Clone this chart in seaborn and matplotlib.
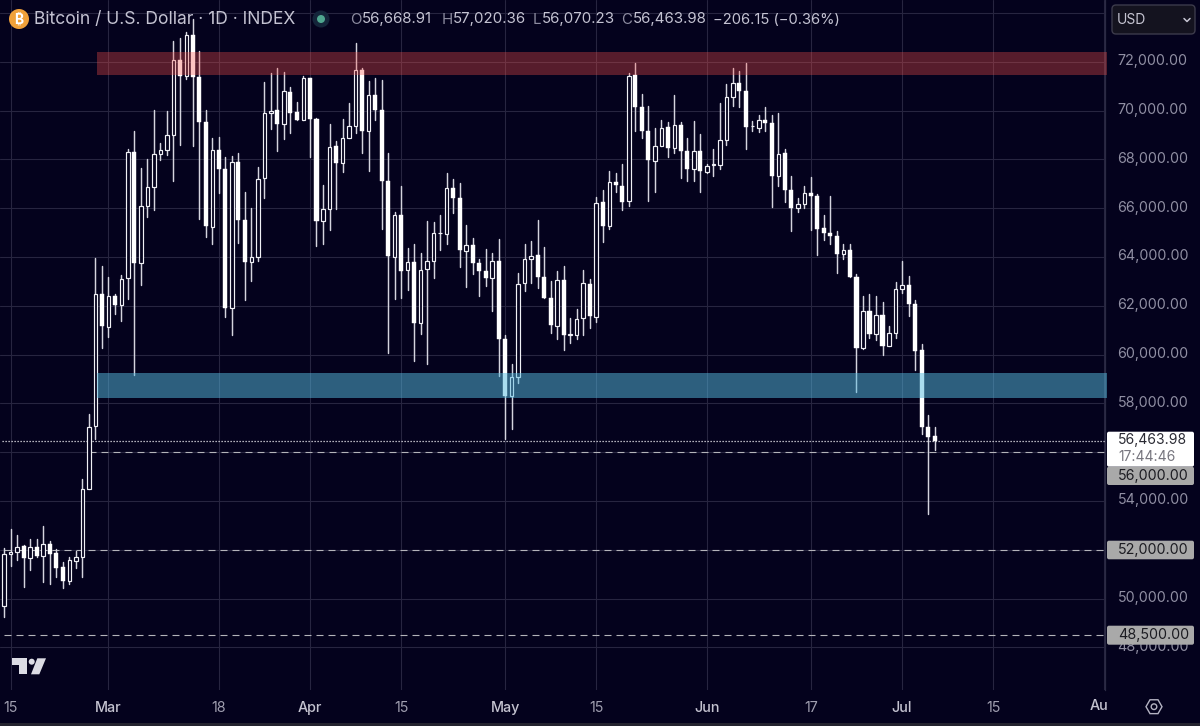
import numpy as np
import pandas as pd
import seaborn as sns
import matplotlib
matplotlib.use("Agg")
import matplotlib.pyplot as plt
from matplotlib.patches import Rectangle, FancyBboxPatch, Circle, Polygon, RegularPolygon
from matplotlib.transforms import Affine2D, ScaledTranslation

start_date = "2024-02-14"
opens = [49.71,51.81,51.92,52.15,51.66,52.12,51.74,52.23,51.85,51.28,50.73,51.55,51.71,54.49,57.07,62.47,61.13,62.39,62.02,63.14,
         68.28,63.76,66.09,66.87,68.21,68.40,69.00,72.07,71.43,73.09,71.38,69.51,65.23,68.40,67.60,61.90,67.87,65.50,63.79,64.00,
         67.24,69.89,70.02,69.44,70.77,69.92,69.63,71.33,69.67,65.46,65.98,68.53,67.86,68.89,69.36,71.64,69.14,70.65,70.04,67.13,
         64.00,65.73,63.45,63.81,61.29,63.49,63.83,64.98,64.93,66.83,66.41,64.25,64.48,63.77,63.43,63.12,63.84,60.64,58.28,59.09,
         62.93,63.90,64.06,63.16,62.33,61.18,63.06,60.82,60.79,61.49,62.90,61.53,66.27,65.26,67.09,66.92,66.28,71.45,70.14,69.14,
         67.94,68.55,69.32,68.48,69.40,68.36,67.60,68.36,67.49,67.75,67.75,68.80,70.56,71.11,70.78,69.35,69.29,69.63,69.50,67.32,
         68.25,66.76,65.99,66.17,66.62,66.51,65.17,64.98,64.87,64.11,64.27,63.18,60.27,61.80,60.83,61.63,60.35,60.90,62.70,62.85,
         62.06,60.17,57.04,56.67]
highs = [52.06,52.83,52.60,52.18,52.42,52.46,52.97,52.35,52.05,51.50,51.69,51.94,54.90,57.58,63.97,63.62,63.18,62.46,63.25,68.44,
         69.15,67.65,68.03,70.04,68.65,69.98,72.85,72.96,73.20,73.75,72.45,70.04,68.88,68.92,68.10,68.14,68.24,66.64,66.00,67.69,
         71.18,71.55,71.73,71.59,70.95,70.36,71.41,71.33,69.70,66.94,69.43,68.74,69.67,70.29,72.75,71.73,71.21,71.32,71.25,68.24,
         65.84,66.90,64.38,64.52,64.16,65.49,65.44,65.73,67.45,67.20,67.04,65.29,64.78,63.91,64.33,64.17,64.72,60.81,59.62,63.34,
         64.54,64.67,65.52,64.40,63.00,63.42,63.61,61.48,61.85,63.45,63.10,66.45,66.76,67.51,67.42,67.79,71.52,71.96,70.67,70.18,
         69.29,69.61,69.52,70.63,69.54,68.88,69.56,69.03,67.80,68.42,70.29,71.08,71.73,71.63,71.96,69.56,69.81,70.15,69.80,69.90,
         68.44,67.32,66.42,66.89,67.28,66.59,65.73,66.50,65.05,64.52,64.52,63.31,62.39,62.49,62.39,62.15,61.16,62.97,63.83,63.23,
         62.22,60.45,57.54,57.02]
lows = [49.26,51.33,51.58,50.48,51.17,51.72,50.69,50.58,50.90,50.42,50.58,51.26,50.90,54.47,56.53,60.25,60.72,61.65,61.38,62.29,
        59.18,62.83,65.64,65.91,67.96,68.17,67.12,68.58,71.28,68.54,65.54,64.82,64.54,66.60,61.53,60.81,64.57,62.25,63.01,63.82,
        66.42,69.25,68.35,68.85,69.06,69.61,69.60,68.10,64.45,64.52,65.09,65.98,67.49,68.88,69.06,68.24,67.53,69.61,65.16,60.06,
        62.29,62.33,62.63,59.74,60.84,59.62,63.13,64.27,64.54,65.81,63.58,62.76,63.31,62.38,62.80,61.78,59.11,56.52,56.96,58.85,
        62.60,62.93,62.73,62.31,60.88,60.64,60.17,60.49,60.62,60.78,61.08,61.33,64.61,65.15,66.64,65.91,66.09,69.17,68.88,66.30,
        66.65,68.55,68.10,68.27,67.25,67.12,67.12,66.64,67.42,67.31,67.59,68.59,70.19,70.13,68.43,69.15,69.13,69.17,66.05,66.91,
        66.25,65.05,65.83,66.02,65.12,64.07,64.68,64.54,63.36,63.93,63.18,58.46,60.24,60.69,60.58,59.97,60.34,60.69,62.52,61.59,
        59.35,56.76,53.45,56.07]
closes = [51.81,51.92,52.12,51.66,52.10,51.74,52.23,51.82,51.24,50.72,51.56,51.71,54.47,57.04,62.46,61.16,62.40,62.02,63.11,68.28,
          63.76,66.09,66.87,68.21,68.40,69.00,72.05,71.43,73.09,71.38,69.51,65.26,68.37,67.60,61.90,67.87,65.50,63.79,64.00,67.20,
          69.88,70.00,69.44,70.78,69.89,69.63,71.32,69.67,65.46,65.97,68.51,67.83,68.89,69.35,71.64,69.14,70.65,70.04,67.13,64.02,
          65.73,63.42,63.81,61.29,63.47,63.83,64.98,65.00,66.83,66.41,64.27,64.48,63.76,63.43,63.12,63.83,60.64,58.28,59.09,62.90,
          63.90,64.05,63.16,62.33,61.19,63.06,60.78,60.85,61.46,62.93,61.57,66.23,65.26,67.08,66.94,66.25,71.43,70.14,69.14,67.96,
          68.55,69.28,68.48,69.39,68.35,67.60,68.36,67.51,67.73,67.79,68.80,70.55,71.11,70.78,69.32,69.37,69.63,69.50,67.32,68.23,
          66.73,65.99,66.17,66.62,66.50,65.14,64.97,64.84,64.11,64.27,63.18,60.27,61.80,60.83,61.63,60.35,60.90,62.70,62.85,62.06,
          60.14,57.03,56.62,56.46]

price_ticks = [48, 50, 52, 54, 56, 58, 60, 62, 64, 66, 68, 70, 72, 74]
time_tick_dates = ["2024-02-15", "2024-03-01", "2024-03-18", "2024-04-01", "2024-04-15", "2024-05-01",
                   "2024-05-15", "2024-06-01", "2024-06-17", "2024-07-01", "2024-07-15", "2024-08-01"]
time_tick_labels = ["15", "Mar", "18", "Apr", "15", "May", "15", "Jun", "17", "Jul", "15", ""]
month_labels = {"Mar", "Apr", "May", "Jun", "Jul"}

resistance_zone = (71.455, 72.385)
support_zone = (58.23, 59.255)
zone_start_date = "2024-02-28 05:00"
level_lines = [(56.0, "2024-02-27"), (52.0, "2024-02-14"), (48.5, "2024-02-14")]
last_price = 56.46398

BG = "#04021d"
GRID = "#272540"
FONT = "Inter"

sns.set_theme(style="dark", rc={"axes.facecolor": BG, "figure.facecolor": BG})
plt.rcParams["font.family"] = [FONT, "DejaVu Sans"]

fig = plt.figure(figsize=(12, 7.26), dpi=100)
W, H = 1200.0, 726.0
ax = fig.add_axes([0, (H - 690) / H, 1105 / W, 690 / H])
px = Affine2D().scale(1, -1).translate(0, H)  # header / tag chrome placed in image pixels

start = pd.Timestamp(start_date)
day_of = lambda d: (pd.Timestamp(d) - start) / pd.Timedelta(days=1)
days = np.arange(len(opens))
o, h, l, c = map(np.array, (opens, highs, lows, closes))

wicks = pd.DataFrame({"day": np.r_[days, days], "price": np.r_[l, h] * 1000})
sns.lineplot(data=wicks, x="day", y="price", units="day", estimator=None, sort=False,
             color="#d4d4de", linewidth=1.05, legend=False, ax=ax, zorder=3)

up = c >= o
ax.bar(days[up], (c - o)[up] * 1000, bottom=o[up] * 1000, width=0.54, facecolor=BG,
       edgecolor="#f0f0f5", linewidth=0.85, zorder=4)
ax.bar(days[~up], (o - c)[~up] * 1000, bottom=c[~up] * 1000, width=0.62, facecolor="white",
       edgecolor="white", linewidth=0.3, zorder=4)

ax.set_xlim((0 - 4.2) / 6.506, (1105 - 4.2) / 6.506)
ax.set_ylim(72000 - (690 - 61.7) * 40.98, 72000 + 61.7 * 40.98)

xend = ax.get_xlim()[1]
zs = day_of(zone_start_date)
ax.add_patch(Rectangle((zs, resistance_zone[0] * 1000), xend + 0.3 - zs, (resistance_zone[1] - resistance_zone[0]) * 1000,
                       facecolor="#f8504a", alpha=0.34, edgecolor="none", zorder=5, clip_on=False))
ax.add_patch(Rectangle((zs, support_zone[0] * 1000), xend + 0.3 - zs, (support_zone[1] - support_zone[0]) * 1000,
                       facecolor="#56bce0", alpha=0.5, edgecolor="none", zorder=5, clip_on=False))

for lvl, d in level_lines:
    ax.plot([day_of(d), xend], [lvl * 1000] * 2, color="#b4b4ba", lw=0.8, dashes=(6.3, 4.5), zorder=2.5)
ax.plot([-0.3, xend], [last_price * 1000] * 2, color="#e8e8ee", lw=0.9, dashes=(1.0, 1.4), zorder=2.5)

# axes furniture
ax.set_xlabel(""); ax.set_ylabel("")
ax.set_xticks([day_of(d) for d in time_tick_dates])
ax.set_xticklabels(time_tick_labels)
ax.set_yticks([p * 1000 for p in price_ticks])
ax.set_yticklabels([f"{p * 1000:,.2f}" if p < 74 else "" for p in price_ticks])
ax.yaxis.tick_right()
ax.grid(True, color=GRID, lw=0.8)
ax.set_axisbelow(True)
ax.tick_params(axis="y", length=0, pad=9, labelsize=10.3, colors="#908fa3", labelfontfamily=FONT)
ax.tick_params(axis="x", length=0, pad=8, labelsize=10.3, colors="#a09fb0")
lift = ScaledTranslation(0, 1.5 / 72, fig.dpi_scale_trans)
for t in ax.get_yticklabels():
    t.set_transform(t.get_transform() + lift)
for t in ax.get_xticklabels():
    if t.get_text() in month_labels:
        t.set_color("#c4c3d0"); t.set_fontweight("medium")
for s in ("top", "left", "bottom"):
    ax.spines[s].set_visible(False)
ax.spines["right"].set_visible(True)
ax.spines["right"].set_color("#2b2a44"); ax.spines["right"].set_linewidth(0.9)

# figure chrome
def box(x0, y0, x1, y1, fc, ec="none", r=2, lw=0.8, z=2):
    fig.add_artist(FancyBboxPatch((x0 + r, y0 + r), x1 - x0 - 2 * r, y1 - y0 - 2 * r,
                                  boxstyle=f"round,pad={r},rounding_size={r}", facecolor=fc, edgecolor=ec,
                                  linewidth=lw, transform=px, zorder=z))
def txt(x, y, s, color, size=10.3, ha="left", weight="normal", z=5):
    fig.text(x, y, s, color=color, fontsize=size, ha=ha, va="center", fontweight=weight,
             transform=px, zorder=z)

fig.add_artist(Rectangle((0, 722.5), W, 4, facecolor="#24232f", edgecolor="none", transform=px, zorder=2))

# price tags
box(1107, 431.7, 1194, 466.7, "white", r=2)
txt(1118, 440, "56,463.98", "#2a2a33", size=10)
txt(1118, 457, "17:44:46", "#77767f", size=10)
for (y0, y1, label) in [(466.7, 485, "56,000.00"), (540.7, 559.3, "52,000.00"), (625.7, 644.7, "48,500.00")]:
    box(1107, y0, 1194, y1, "#a9a9a9", r=2)
    txt(1118, (y0 + y1) / 2, label, "#1c1c22")

# currency box
box(1112, 5, 1195, 34, "#14131f", ec="#3c3b4b", r=4, lw=1.0)
txt(1117, 20.5, "USD", "#c6c5d2", size=10)
fig.add_artist(plt.Line2D([1184, 1187, 1190], [18.5, 21.5, 18.5], color="#c6c5d2", lw=1.1, transform=px, zorder=5))

# header
fig.add_artist(Circle((19, 19), 10, facecolor="#f0a13a", edgecolor="none", transform=px, zorder=4))
txt(19, 19.5, "₿", "white", size=10, ha="center", weight="bold")
fig.text(34, 19.5, "Bitcoin / U.S. Dollar · 1D · INDEX", color="#c4c3d2", fontsize=12.6, va="center",
         transform=px, zorder=5)
fig.add_artist(Circle((321, 19), 8.5, facecolor="#14253a", edgecolor="none", transform=px, zorder=4))
fig.add_artist(Circle((321, 19), 4, facecolor="#4fa68f", edgecolor="none", transform=px, zorder=4))
for lab, x, val, vx in [("O", 350, "56,668.91", 362), ("H", 442, "57,020.36", 453),
                        ("L", 533, "56,070.23", 542), ("C", 621, "56,463.98", 633)]:
    txt(x, 19.5, lab, "#8d8ca0", size=10.8)
    txt(vx, 19.5, val, "#c4c3d2", size=10.8)
txt(713, 19.5, "−206.15 (−0.36%)", "#c4c3d2", size=10.6)

# bottom-left logo
logo = "#dcdce4"
fig.add_artist(Polygon([(12.3, 658.3), (27.3, 658.3), (27.3, 674.3), (19, 674.3), (19, 665), (12.3, 665)],
                       facecolor=logo, edgecolor="none", transform=px, zorder=4))
fig.add_artist(Circle((31.7, 661.7), 3, facecolor=logo, edgecolor="none", transform=px, zorder=4))
fig.add_artist(Polygon([(37.3, 658.3), (46, 658.3), (39.3, 674.3), (31, 674.3)],
                       facecolor=logo, edgecolor="none", transform=px, zorder=4))

# clipped last time label and settings hexagon
txt(1099, 706, "Au", "#c4c3d0", ha="center", weight="medium")
fig.add_artist(RegularPolygon((1154, 706.7), 6, radius=8, orientation=np.pi / 6, facecolor="none",
                              edgecolor="#b4b3c2", lw=1.0, transform=px, zorder=4))
fig.add_artist(Circle((1154, 706.7), 2.8, facecolor="none", edgecolor="#b4b3c2", lw=1.0, transform=px, zorder=4))

fig.savefig("out.png", dpi=100, facecolor=BG)
